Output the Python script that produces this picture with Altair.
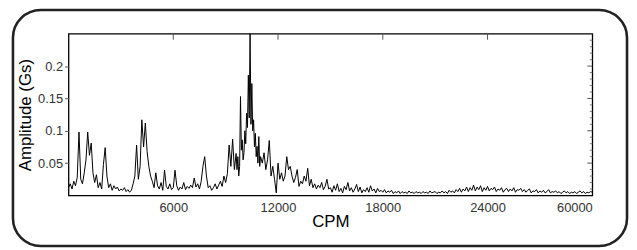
import altair as alt
import pandas as pd

# ---- spectrum data (amplitude in Gs), each segment: start CPM, step CPM, values
seg_a_start, seg_a_step = 0, 100
amp_a = [0.012, 0.018, 0.010, 0.022, 0.015, 0.028, 0.098, 0.025, 0.018, 0.035,
         0.055, 0.098, 0.062, 0.081, 0.035, 0.020, 0.032, 0.012, 0.020, 0.010,
         0.048, 0.074, 0.030, 0.012, 0.018, 0.008, 0.015, 0.010, 0.013, 0.007]

seg_b_start, seg_b_step = 3000, 100
amp_b = [0.010, 0.008, 0.012, 0.006, 0.009, 0.005, 0.008, 0.018, 0.030, 0.078,
         0.025, 0.045, 0.117, 0.075, 0.112, 0.068, 0.045, 0.030, 0.022, 0.012,
         0.035, 0.015, 0.010, 0.020, 0.008, 0.039, 0.014, 0.010, 0.018, 0.009]

seg_c_start, seg_c_step = 6000, 100
amp_c = [0.012, 0.039, 0.015, 0.008, 0.013, 0.010, 0.020, 0.009, 0.014, 0.011,
         0.016, 0.012, 0.027, 0.013, 0.018, 0.010, 0.022, 0.045, 0.060, 0.030,
         0.012, 0.015, 0.008, 0.012, 0.018, 0.010, 0.016, 0.022, 0.014, 0.030]

seg_d1_start, seg_d1_step = 9000, 100
amp_d1 = [0.020, 0.034, 0.078, 0.045, 0.087, 0.040]

seg_d2_start, seg_d2_step = 9600, 50
amp_d2 = [0.065, 0.040, 0.060, 0.030, 0.045, 0.153, 0.070, 0.086, 0.055, 0.066,
          0.100, 0.080, 0.127, 0.105, 0.186, 0.120, 0.250, 0.110, 0.173, 0.100,
          0.117, 0.075, 0.096, 0.060, 0.076, 0.050, 0.091, 0.045]

seg_d3_start, seg_d3_step = 11000, 100
amp_d3 = [0.060, 0.050, 0.066, 0.040, 0.055, 0.085, 0.030, 0.045, 0.025, 0.004]

seg_e_start, seg_e_step = 12000, 100
amp_e = [0.050, 0.025, 0.035, 0.022, 0.030, 0.060, 0.040, 0.045, 0.030, 0.020,
         0.028, 0.040, 0.014, 0.022, 0.018, 0.030, 0.022, 0.042, 0.015, 0.025,
         0.012, 0.018, 0.010, 0.016, 0.012, 0.020, 0.009, 0.014, 0.025, 0.010]

seg_f_start, seg_f_step = 15000, 100
amp_f = [0.012, 0.005, 0.015, 0.008, 0.018, 0.006, 0.011, 0.004, 0.014, 0.009,
         0.020, 0.007, 0.012, 0.005, 0.010, 0.017, 0.006, 0.013, 0.004, 0.009,
         0.006, 0.012, 0.005, 0.015, 0.007, 0.010, 0.004, 0.011, 0.006, 0.008,
         0.005, 0.009, 0.004, 0.007, 0.005, 0.008, 0.003, 0.006, 0.004, 0.007,
         0.003, 0.006, 0.004, 0.005, 0.003, 0.007, 0.004, 0.005, 0.003, 0.006,
         0.004, 0.005, 0.003, 0.006, 0.004, 0.005, 0.003, 0.007, 0.004, 0.005,
         0.006, 0.003, 0.005, 0.004, 0.007, 0.004, 0.006, 0.003, 0.008, 0.005,
         0.007, 0.004, 0.009, 0.006, 0.011, 0.005, 0.010, 0.007, 0.013, 0.006,
         0.012, 0.008, 0.016, 0.007, 0.013, 0.009, 0.015, 0.006, 0.012, 0.008,
         0.014, 0.007, 0.011, 0.009, 0.013, 0.006, 0.010, 0.008, 0.012, 0.005,
         0.009, 0.011, 0.006, 0.010, 0.007, 0.012, 0.005, 0.009, 0.008, 0.011,
         0.006, 0.009, 0.005, 0.008, 0.010, 0.004, 0.007, 0.006, 0.009, 0.004,
         0.007, 0.005, 0.008, 0.004, 0.006, 0.009, 0.004, 0.006, 0.005, 0.007,
         0.004, 0.006, 0.003, 0.005, 0.007, 0.004, 0.006, 0.003, 0.005, 0.004,
         0.006, 0.003, 0.005, 0.007, 0.004, 0.006, 0.003, 0.005, 0.004, 0.006,
         0.005]

# ---- axis ticks
x_tick_values = [6000, 12000, 18000, 24000, 30000]
x_tick_labels = ["6000", "12000", "18000", "24000", "60000"]
y_tick_values = [0.05, 0.1, 0.15, 0.2]
y_minor_ticks = [0.01, 0.02, 0.03, 0.04, 0.06, 0.07, 0.08, 0.09, 0.11, 0.12, 0.13,
                 0.14, 0.16, 0.17, 0.18, 0.19, 0.21, 0.22, 0.23, 0.24]

segments = [(seg_a_start, seg_a_step, amp_a), (seg_b_start, seg_b_step, amp_b),
            (seg_c_start, seg_c_step, amp_c), (seg_d1_start, seg_d1_step, amp_d1),
            (seg_d2_start, seg_d2_step, amp_d2), (seg_d3_start, seg_d3_step, amp_d3),
            (seg_e_start, seg_e_step, amp_e), (seg_f_start, seg_f_step, amp_f)]
rows = []
for start, step, vals in segments:
    for i, v in enumerate(vals):
        rows.append({"freq": start + i * step, "amp": v})
df = pd.DataFrame(rows)

W, H = 528, 163
FONT = "Liberation Sans"

label_expr = " : ".join(f"datum.value == {v} ? '{l}'" for v, l in zip(x_tick_values, x_tick_labels)) + " : ''"

xscale = alt.Scale(domain=[0, 30000], nice=False, zero=False)
yscale = alt.Scale(domain=[0, 0.25], nice=False)

x_axis = alt.Axis(values=x_tick_values, labelExpr=label_expr, title="CPM",
                  ticks=False, domain=False, grid=False, labelPadding=6,
                  labelFont=FONT, labelFontSize=13, labelColor="#333",
                  titleFont=FONT, titleFontSize=17, titleFontWeight="normal",
                  titleColor="black", titlePadding=-1)
y_axis = alt.Axis(values=y_tick_values, format=".2~f", title="Amplitude (Gs)",
                  ticks=True, tickSize=4, tickColor="#555", domain=False, grid=False,
                  labelPadding=2, labelFont=FONT, labelFontSize=13, labelColor="#333",
                  titleFont=FONT, titleFontSize=17, titleFontWeight="normal",
                  titleColor="black", titlePadding=3)

line = alt.Chart(df).mark_line(color="black", strokeWidth=1).encode(
    x=alt.X("freq:Q", scale=xscale, axis=x_axis),
    y=alt.Y("amp:Q", scale=yscale, axis=y_axis),
)

top_ticks = alt.Chart(pd.DataFrame({"freq": x_tick_values[:-1]})).mark_rule(
    color="#555", strokeWidth=1).encode(
    x=alt.X("freq:Q", scale=xscale, axis=x_axis),
    y=alt.value(0), y2=alt.value(6))

right_major = alt.Chart(pd.DataFrame({"amp": y_tick_values})).mark_rule(
    color="#555", strokeWidth=1).encode(
    y=alt.Y("amp:Q", scale=yscale, axis=y_axis),
    x=alt.value(W - 5), x2=alt.value(W))

right_minor = alt.Chart(pd.DataFrame({"amp": y_minor_ticks})).mark_rule(
    color="#777", strokeWidth=1).encode(
    y=alt.Y("amp:Q", scale=yscale, axis=y_axis),
    x=alt.value(W - 2.5), x2=alt.value(W))

frame = alt.Chart(pd.DataFrame({"k": [0]})).mark_rect(
    fill=None, stroke="#222", strokeWidth=2.6, cornerRadius=28).encode(
    x=alt.value(-56), x2=alt.value(563), y=alt.value(-24), y2=alt.value(214))

chart = alt.layer(line, top_ticks, right_major, right_minor, frame).properties(
    width=W, height=H,
    autosize=alt.AutoSizeParams(type="none"),
    padding={"left": 61, "top": 25, "right": 37, "bottom": 53},
    background="white",
).configure_view(stroke="black", strokeWidth=1.3)

chart.save("out.html", embed_options={"renderer": "svg", "actions": False})
